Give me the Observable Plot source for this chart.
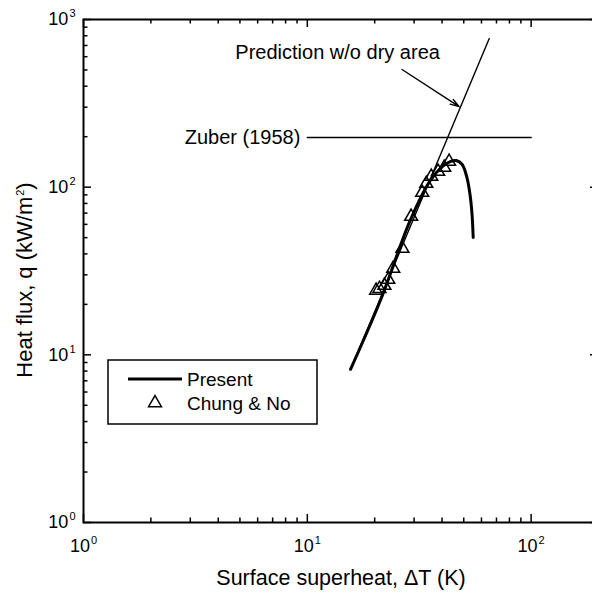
<!DOCTYPE html>
<html><head><meta charset="utf-8">
<script src="https://cdn.jsdelivr.net/npm/d3@7"></script>
<script src="https://cdn.jsdelivr.net/npm/@observablehq/plot@0.6"></script>
<style>
html,body{margin:0;padding:0;background:#fff;overflow:hidden}
#chart{position:relative;width:592px;height:596px}
</style>
</head><body><div id="chart"></div>
<script>
// ---- data ----
const xTicksMajor = [1, 10, 100];
const xTicksMinor = [2,3,4,5,6,7,8,9,20,30,40,50,60,70,80,90];
const yTicksMajor = [1, 10, 100, 1000];
const yTicksMinor = [2,3,4,5,6,7,8,9,20,30,40,50,60,70,80,90,200,300,400,500,600,700,800,900];

// Present model (thick curve)
const presentDT = [15.6, 21.2, 28.8, 35.4, 40.1, 43.5, 46.3, 49.2, 51.8, 53.4, 54.5, 55.1];
const presentQ  = [8.2, 21.1, 63.2, 109.5, 132.7, 142.1, 144.1, 136.5, 112.5, 89.1, 67.7, 50.1];

// Prediction without dry area (thin straight line)
const predDT = [15.6, 20, 30, 42.2, 65];
const predQ  = [8.2, 18, 66, 195, 770];

// Chung & No experimental data (triangles)
const chungDT = [20.3, 21.0, 22.1, 23.0, 24.2, 26.6, 29.1, 32.6, 34.0, 35.8, 38.4, 40.9, 43.0];
const chungQ  = [24.2, 24.8, 25.9, 28.1, 32.7, 43.0, 66.8, 92.9, 105, 115.7, 123.9, 130.9, 142.1];

// Zuber (1958) CHF
const zuberDT = [10, 100];
const zuberQ  = [198, 198];

// Annotations
const annoText = ["Prediction w/o dry area", "Zuber (1958)"];
const annoX = [4.77, 10];
const annoY = [635, 198];
const arrowFrom = [26.5, 503];
const arrowTo = [47.7, 302];

const xTitle = "Surface superheat, \u0394T (K)";
const yTitle = "Heat flux, q (kW/m^2)";
const legendLabels = ["Present", "Chung & No"];

// ---- tables ----
const present = presentDT.map((x, i) => ({x, y: presentQ[i]}));
const pred = predDT.map((x, i) => ({x, y: predQ[i]}));
const chung = chungDT.map((x, i) => ({x, y: chungQ[i]}));
const zuber = zuberDT.map((x, i) => ({x, y: zuberQ[i]}));
const annos = annoText.map((t, i) => ({t, x: annoX[i], y: annoY[i]}));
const arrows = [{x1: arrowFrom[0], y1: arrowFrom[1], x2: arrowTo[0], y2: arrowTo[1]}];

const W = 592, H = 596, mL = 83, mR = -6, mT = 19, mB = 74;
const innerH = H - mT - mB, innerW = W - mL - mR;
const major = 8, minor = 4.5;
const fmt = d => "10^" + Math.round(Math.log10(d));
const font = "'Liberation Sans', Arial, Helvetica, sans-serif";

const plot = Plot.plot({
  width: W, height: H,
  marginLeft: mL, marginRight: mR, marginTop: mT, marginBottom: mB,
  x: {type: "log", domain: [1, 200]},
  y: {type: "log", domain: [1, 1000]},
  style: {fontFamily: font, fontSize: "18px", background: "white", color: "black", overflow: "hidden"},
  marks: [
    // ticks inward on all four sides
    Plot.ruleX(xTicksMajor, {x: d => d, insetTop: innerH - major, strokeWidth: 1.5}),
    Plot.ruleX(xTicksMinor, {x: d => d, insetTop: innerH - minor, strokeWidth: 1.5}),
    Plot.ruleX(xTicksMajor, {x: d => d, insetBottom: innerH - major, strokeWidth: 1.5}),
    Plot.ruleX(xTicksMinor, {x: d => d, insetBottom: innerH - minor, strokeWidth: 1.5}),
    Plot.ruleY(yTicksMajor, {y: d => d, insetRight: innerW - major, strokeWidth: 1.5}),
    Plot.ruleY(yTicksMinor, {y: d => d, insetRight: innerW - minor, strokeWidth: 1.5}),
    Plot.ruleY(yTicksMajor, {y: d => d, insetLeft: innerW - major, strokeWidth: 1.5}),
    Plot.ruleY(yTicksMinor, {y: d => d, insetLeft: innerW - minor, strokeWidth: 1.5}),
    Plot.frame({strokeWidth: 2}),
    Plot.axisX({ticks: xTicksMajor, anchor: "bottom", tickSize: 0, tickPadding: 17, tickFormat: fmt, label: null, fontSize: 18}),
    Plot.axisY({ticks: yTicksMajor, anchor: "left", tickSize: 0, tickPadding: 8, tickFormat: fmt, label: null, fontSize: 18}),
    Plot.text([xTitle], {text: d => d, frameAnchor: "bottom", dy: 56, textAnchor: "middle", lineAnchor: "middle", fontSize: 21.5}),
    Plot.text([yTitle], {text: d => d, frameAnchor: "left", dx: -59, dy: 9, rotate: -90, textAnchor: "middle", lineAnchor: "middle", fontSize: 22}),
    // data
    Plot.line(zuber, {x: "x", y: "y", strokeWidth: 1.5}),
    Plot.line(pred, {x: "x", y: "y", strokeWidth: 1.4}),
    Plot.line(present, {x: "x", y: "y", strokeWidth: 3, curve: "catmull-rom"}),
    Plot.dot(chung, {x: "x", y: "y", symbol: "triangle", r: 4.8, stroke: "black", strokeWidth: 1.5, fill: "none"}),
    Plot.arrow(arrows, {x1: "x1", y1: "y1", x2: "x2", y2: "y2", headLength: 10, headAngle: 35, strokeWidth: 1.4}),
    Plot.text(annos.slice(0, 1), {x: "x", y: "y", text: "t", textAnchor: "start", fontSize: 20}),
    Plot.text(annos.slice(1), {x: "x", y: "y", text: "t", textAnchor: "end", dx: -7, fontSize: 20})
  ]
});

// superscripts
d3.select(plot).selectAll("text").each(function () {
  const t = this.textContent;
  const m = t.match(/^(.*)\^(\d)(.*)$/);
  if (!m) return;
  const el = d3.select(this);
  el.text(null);
  el.append("tspan").text(m[1]);
  el.append("tspan").attr("font-size", "11px").attr("dx", "1").attr("dy", "-8").text(m[2]);
  if (m[3]) el.append("tspan").attr("dy", "8").text(m[3]);
});

// legend box
const lg = d3.select(plot).append("g").attr("font-family", font).attr("font-size", 19).attr("text-anchor", "start");
lg.append("rect").attr("x", 108).attr("y", 360).attr("width", 209).attr("height", 64)
  .attr("fill", "white").attr("stroke", "black").attr("stroke-width", 1.5);
lg.append("line").attr("x1", 128).attr("x2", 182).attr("y1", 379).attr("y2", 379)
  .attr("stroke", "black").attr("stroke-width", 3);
lg.append("path").attr("transform", "translate(155,403)")
  .attr("d", d3.symbol(d3.symbolTriangle, Math.PI * 4.8 * 4.8)())
  .attr("fill", "none").attr("stroke", "black").attr("stroke-width", 1.5);
legendLabels.forEach((l, i) => {
  lg.append("text").attr("x", 187).attr("y", 379 + i * 24).attr("dy", "0.35em")
    .attr("text-anchor", "start").attr("fill", "black").text(l);
});

document.getElementById("chart").appendChild(plot);
</script>
</body></html>
